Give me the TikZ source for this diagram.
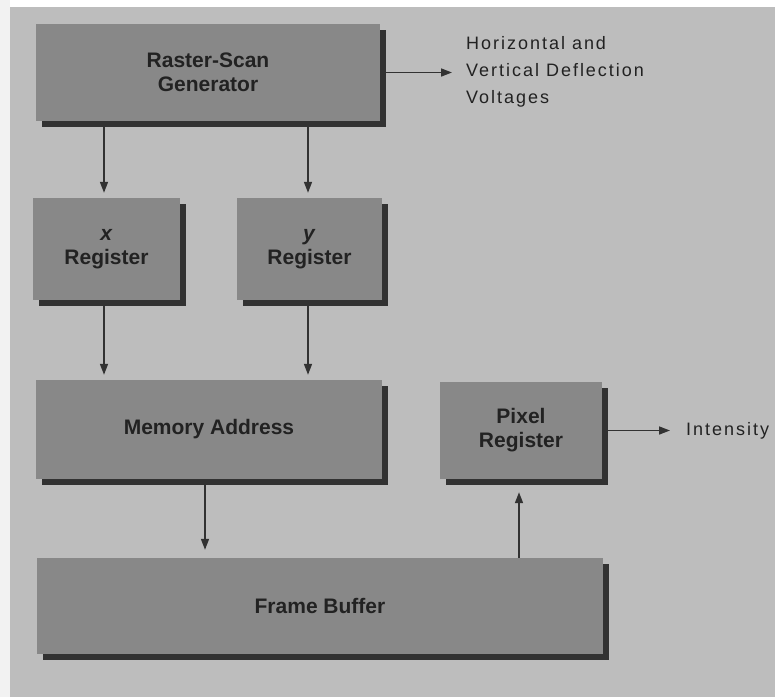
\documentclass[tikz,border=0pt]{standalone}
\usepackage{fontspec}
\setmainfont{Liberation Sans}
\newfontfamily\lblfont[LetterSpace=11]{Liberation Sans}
\usetikzlibrary{shadows,arrows.meta}
\definecolor{bgc}{RGB}{189,189,189}
\definecolor{facec}{RGB}{136,136,136}
\definecolor{shadc}{RGB}{50,50,50}
\definecolor{inkc}{RGB}{34,34,34}
\definecolor{linec}{RGB}{50,50,50}
\definecolor{stripc}{RGB}{242,242,242}
\begin{document}
\begin{tikzpicture}[x=1pt,y=-1pt,
  blk/.style={fill=facec, inner sep=0pt, align=center, text=inkc,
    font=\fontsize{21}{24}\selectfont\bfseries,
    drop shadow={shadow xshift=6pt, shadow yshift=-6pt, fill=shadc, opacity=1}},
  arr/.style={draw=linec, line width=1.6pt, -{Triangle[length=11pt,width=8pt]}},
  lbl/.style={inner sep=0pt, text=inkc, font=\lblfont\fontsize{18}{27}\selectfont, align=left, anchor=west}]
\useasboundingbox (0,0) rectangle (775,697);
\fill[white] (0,0) rectangle (775,697);
\fill[stripc] (0,0) rectangle (10,697);
\fill[bgc] (10,7) rectangle (775,697);

\node[blk, minimum width=344pt, minimum height=97pt] (gen) at (208,72.5) {Raster-Scan\\Generator};
\node[blk, minimum width=147pt, minimum height=102pt] (xreg) at (106.5,249) {\textit{x}\\Register};
\node[blk, minimum width=145pt, minimum height=102pt] (yreg) at (309.5,249) {\textit{y}\\Register};
\node[blk, minimum width=346pt, minimum height=99pt] (mem) at (209,429.5) {Memory Address};
\node[blk, minimum width=162pt, minimum height=97pt] (pix) at (521,430.5) {Pixel\\Register};
\node[blk, minimum width=566pt, minimum height=96pt] (fb) at (320,606) {Frame Buffer};

\node[lbl] (defl) at (466,72) {Horizontal and\\Vertical Deflection\\Voltages};
\node[lbl] (inten) at (686,430.5) {Intensity};

\path ([xshift=-2.5pt]xreg.north) coordinate (xin)
      ([xshift=-1.5pt]yreg.north) coordinate (yin)
      ([xshift=-4pt]mem.south) coordinate (mout)
      ([xshift=-2pt]pix.south) coordinate (pin);

\draw[arr, shorten >=5pt] (xin |- gen.south) -- (xin);
\draw[arr, shorten >=5pt] (yin |- gen.south) -- (yin);
\draw[arr, shorten >=5pt] (xin |- xreg.south) -- (xin |- mem.north);
\draw[arr, shorten >=5pt] (yin |- yreg.south) -- (yin |- mem.north);
\draw[arr, shorten >=8pt] (mout) -- (mout |- fb.north);
\draw[arr, shorten >=13pt] (pin |- fb.north) -- (pin);
\draw[arr, shorten >=14pt] (gen.east) -- (gen.east -| defl.west);
\draw[arr, shorten >=16pt] (pix.east) -- (inten.west);
\end{tikzpicture}
\end{document}
